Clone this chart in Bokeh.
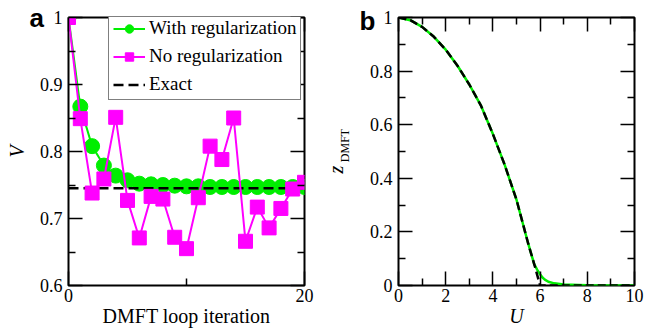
from bokeh.plotting import figure
from bokeh.models import FixedTicker, LinearAxis, Range1d, Legend, LegendItem, Title
from bokeh.layouts import row
from bokeh.embed import file_html
from bokeh.resources import INLINE

# ---------------- data: panel a ----------------
iterations = list(range(21))
v_with_reg = [1.0, 0.867, 0.808, 0.779, 0.764, 0.757, 0.752, 0.751, 0.750, 0.749,
              0.748, 0.748, 0.747, 0.747, 0.747, 0.747, 0.747, 0.747, 0.747, 0.747, 0.747]
v_no_reg = [1.0, 0.849, 0.738, 0.759, 0.851, 0.727, 0.671, 0.733, 0.729, 0.672,
            0.655, 0.731, 0.808, 0.788, 0.850, 0.666, 0.717, 0.686, 0.715, 0.744, 0.754]
exact_iter = [0, 20]
exact_v = [0.745, 0.745]

# ---------------- data: panel b ----------------
u_exact = [0.0, 0.5, 1.0, 1.5, 2.0, 2.5, 3.0, 3.5, 4.0, 4.5, 5.0, 5.5, 5.75, 6.0, 7.0, 8.0, 9.0, 10.0]
z_exact = [1.0, 0.99, 0.965, 0.928, 0.88, 0.82, 0.75, 0.67, 0.565, 0.45, 0.32, 0.155, 0.08, 0.0,
           0.0, 0.0, 0.0, 0.0]
u_dmft = [0.0, 0.5, 1.0, 1.5, 2.0, 2.5, 3.0, 3.5, 4.0, 4.5, 5.0, 5.5, 5.75, 5.9, 6.0, 6.1, 6.2,
          6.35, 6.6, 7.0, 8.0, 10.0]
z_dmft = [1.0, 0.99, 0.965, 0.928, 0.88, 0.82, 0.75, 0.67, 0.565, 0.45, 0.32, 0.155, 0.08, 0.055,
          0.042, 0.03, 0.022, 0.014, 0.008, 0.004, 0.001, 0.0]

GREEN = "#00ee00"
MAGENTA = "#ff00ff"
SERIF = "Liberation Serif"
SANS = "Liberation Sans"
NB = "\u00a0"


def style_axis(ax, ticks, minor, labels=True):
    ax.ticker = FixedTicker(ticks=ticks, minor_ticks=minor)
    ax.axis_line_color = None
    ax.major_tick_in = 14
    ax.major_tick_out = 0
    ax.minor_tick_in = 7
    ax.minor_tick_out = 0
    ax.major_tick_line_color = "black"
    ax.minor_tick_line_color = "black"
    ax.major_tick_line_width = 1.5
    ax.minor_tick_line_width = 1.5
    ax.major_label_text_font = SERIF
    ax.axis_label_text_font = SERIF
    ax.axis_label_text_color = "black"
    ax.axis_label_text_font_size = "20px"
    ax.axis_label_text_font_style = "normal"
    if labels:
        ax.major_label_text_color = "black"
        ax.major_label_text_font_size = "18px"
        ax.major_label_standoff = 6
    else:
        # mirror axis: ticks only, its labels are not drawn at all
        ax.major_label_text_color = None
        ax.major_label_text_font_size = "0px"
        ax.major_label_standoff = 0


def make_fig(width, left, right, xr, yr):
    p = figure(width=width, height=332, x_range=xr, y_range=yr,
               output_backend="svg", toolbar_location=None,
               min_border_left=left, min_border_right=right,
               min_border_top=17, min_border_bottom=47)
    p.xgrid.visible = False
    p.ygrid.visible = False
    p.outline_line_color = "black"
    p.outline_line_width = 2
    p.background_fill_color = "white"
    p.border_fill_color = "white"
    return p


def panel_tag(p, text, standoff):
    p.title.text = text
    p.title.align = "left"
    p.title.offset = -39
    p.title.standoff = standoff
    p.title.text_font = SANS
    p.title.text_font_style = "bold"
    p.title.text_font_size = "26px"
    p.title.text_color = "black"


# ================= panel a =================
pa = make_fig(322, 68, 18, Range1d(0, 20), Range1d(0.6, 1.0))
xt_a = [0, 20]
xm_a = [10]
yt_a = [0.6, 0.7, 0.8, 0.9, 1.0]
ym_a = [0.65, 0.75, 0.85, 0.95]
style_axis(pa.xaxis[0], xt_a, xm_a)
style_axis(pa.yaxis[0], yt_a, ym_a)
pa.yaxis[0].major_label_overrides = {1.0: "1"}
pa.xaxis[0].major_label_standoff = 3
pa.xaxis[0].axis_label = "DMFT loop iteration"
pa.xaxis[0].axis_label_standoff = 0
pa.yaxis[0].axis_label = "V"
pa.yaxis[0].axis_label_text_font_style = "italic"
pa.yaxis[0].axis_label_standoff = 9
top_a = LinearAxis()
right_a = LinearAxis()
style_axis(top_a, xt_a, xm_a, labels=False)
style_axis(right_a, yt_a, ym_a, labels=False)
pa.add_layout(top_a, "above")
pa.add_layout(right_a, "right")
panel_tag(pa, "a", -30)

g_line = pa.line(iterations, v_with_reg, line_color=GREEN, line_width=2)
g_sc = pa.scatter(iterations, v_with_reg, marker="circle", size=15,
                  fill_color=GREEN, line_color=GREEN)
ex_line = pa.line(exact_iter, exact_v, line_color="black", line_width=2.5, line_dash="10 5")
m_line = pa.line(iterations, v_no_reg, line_color=MAGENTA, line_width=2)
m_sc = pa.scatter(iterations, v_no_reg, marker="square", size=14,
                  fill_color=MAGENTA, line_color=MAGENTA)

legend = Legend(items=[LegendItem(label="With regularization", renderers=[g_line, g_sc]),
                       LegendItem(label="No regularization", renderers=[m_line, m_sc]),
                       LegendItem(label="Exact", renderers=[ex_line])],
                location=(40, 185), glyph_width=32, glyph_height=21, label_height=21,
                spacing=6, padding=4, margin=0, label_standoff=4,
                border_line_color="black", border_line_width=1,
                background_fill_color="white", background_fill_alpha=1,
                label_text_font=SERIF, label_text_font_size="19px",
                label_text_color="black")
pa.add_layout(legend)

# ================= panel b =================
pb = make_fig(324, 76, 12, Range1d(0, 10), Range1d(0, 1))
xt_b = [0, 2, 4, 6, 8, 10]
xm_b = [1, 3, 5, 7, 9]
yt_b = [0, 0.2, 0.4, 0.6, 0.8, 1.0]
ym_b = [0.1, 0.3, 0.5, 0.7, 0.9]
style_axis(pb.xaxis[0], xt_b, xm_b)
style_axis(pb.yaxis[0], yt_b, ym_b)
pb.yaxis[0].major_label_overrides = {0: "0", 1.0: "1"}
pb.xaxis[0].major_label_standoff = 3
pb.xaxis[0].axis_label = "U"
pb.xaxis[0].axis_label_text_font_style = "italic"
pb.xaxis[0].axis_label_standoff = 0
# subscript of the y label; the leading no-break spaces lift it above the centre
pb.yaxis[0].axis_label = NB * 4 + "DMFT"
pb.yaxis[0].axis_label_text_font_size = "12px"
pb.yaxis[0].axis_label_standoff = 15
top_b = LinearAxis()
right_b = LinearAxis()
style_axis(top_b, xt_b, xm_b, labels=False)
style_axis(right_b, yt_b, ym_b, labels=False)
pb.add_layout(top_b, "above")
pb.add_layout(right_b, "right")
panel_tag(pb, "b", -36)
pb.add_layout(Title(text="z", align="left", offset=112, standoff=-25,
                    text_font=SERIF, text_font_style="italic", text_font_size="20px",
                    text_color="black"), "left")

pb.line(u_dmft, z_dmft, line_color=GREEN, line_width=2.5)
pb.line(u_exact, z_exact, line_color="black", line_width=2.5, line_dash="8 4")

layout = row(pa, pb)
open("out.html", "w").write(file_html(layout, INLINE))
